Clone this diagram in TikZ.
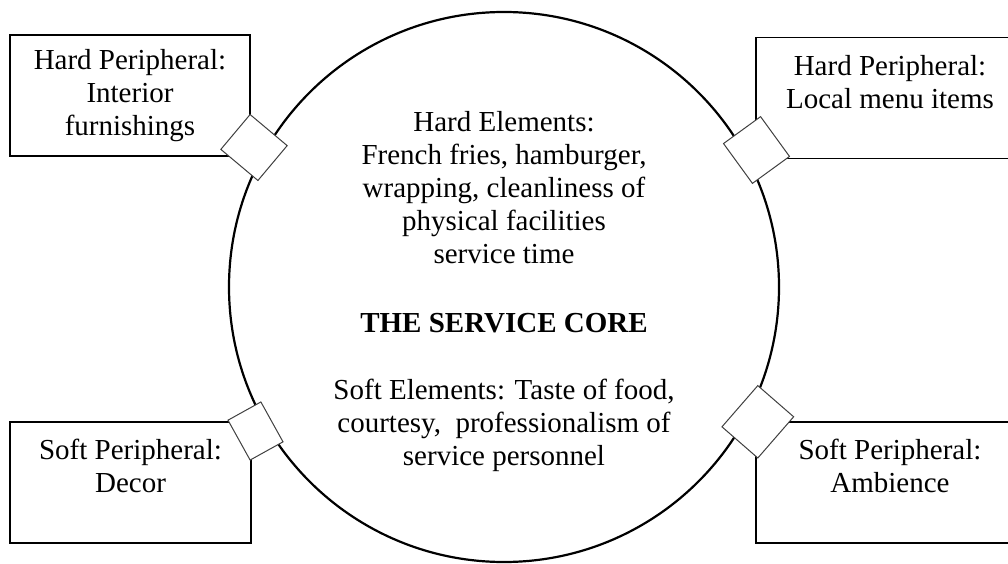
\documentclass[tikz,border=0pt]{standalone}
\usepackage{fontspec}
\setmainfont{Liberation Serif}
\usetikzlibrary{positioning}

\begin{document}
\begin{tikzpicture}[
    x=1pt, y=-1pt,
    every node/.style={font=\fontsize{29}{33}\selectfont},
    periph/.style={draw, line width=1.4pt, align=center, inner sep=0pt, minimum height=121pt},
    core/.style={circle, draw, line width=2.2pt, inner sep=0pt, minimum size=550pt},
    corelabel/.style={align=center, inner sep=0pt},
    joint/.style={draw=black!75, line width=1pt, fill=white, inner sep=0pt}
  ]
    \useasboundingbox (0,0) rectangle (1008,564);

    \node[periph, minimum width=240pt] (furnish) at (130,95.5) {Hard Peripheral:\\Interior\\furnishings};
    \node[periph, minimum width=268pt] (menu) at (890,98) {Hard Peripheral:\\Local menu items\\~};
    \node[periph, minimum width=241pt] (decor) at (130.5,482.5) {Soft Peripheral:\\Decor\\~};
    \node[periph, minimum width=268pt] (ambience) at (890,482.5) {Soft Peripheral:\\Ambience\\~};

    \node[core] (servcore) at (504,287) {};
    \node[corelabel] (hard) at (504,187.5) {Hard Elements:\\French fries, hamburger,\\wrapping, cleanliness of\\physical facilities\\service time};
    \node[corelabel, font=\fontsize{29}{33}\selectfont\bfseries] (title) at (504,323) {THE SERVICE CORE};
    \node[corelabel] (soft) at (504,425) {Soft Elements: Taste of food,\\courtesy,\ \ professionalism of\\service personnel};

    \node[joint, rotate=50, minimum width=45.5pt, minimum height=48.4pt] (jfurnish) at (254,147.5) {};
    \node[joint, rotate=36, minimum width=45.8pt, minimum height=49.2pt] (jmenu) at (756.5,150) {};
    \node[joint, rotate=29, minimum width=37.6pt, minimum height=45.6pt] (jdecor) at (255.5,431) {};
    \node[joint, rotate=49, minimum width=54.6pt, minimum height=47.5pt] (jambience) at (757.8,421.8) {};
  \end{tikzpicture}
\end{document}
